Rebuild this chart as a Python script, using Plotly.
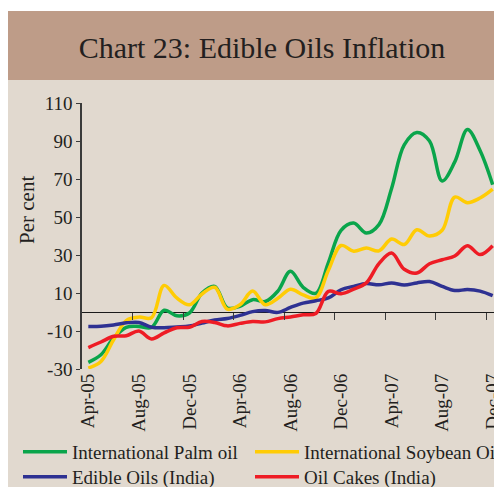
import plotly.graph_objects as go

# ---------------- data ----------------
months = ["Apr-05", "May-05", "Jun-05", "Jul-05", "Aug-05", "Sep-05", "Oct-05", "Nov-05",
          "Dec-05", "Jan-06", "Feb-06", "Mar-06", "Apr-06", "May-06", "Jun-06", "Jul-06",
          "Aug-06", "Sep-06", "Oct-06", "Nov-06", "Dec-06", "Jan-07", "Feb-07", "Mar-07",
          "Apr-07", "May-07", "Jun-07", "Jul-07", "Aug-07", "Sep-07", "Oct-07", "Nov-07",
          "Dec-07"]
tick_labels = ["Apr-05", "Aug-05", "Dec-05", "Apr-06", "Aug-06", "Dec-06", "Apr-07", "Aug-07", "Dec-07"]
y_ticks = [-30, -10, 10, 30, 50, 70, 90, 110]
y_tick_text = ["-30", "-10", "10", "30", "50", "70", "90", "110"]

palm_oil = [-26.5, -22.5, -13.7, -8.1, -7.6, -8.1, 0.9, -2.0, -0.5, 10.0, 13.5, 2.1, 3.0,
            6.5, 5.5, 11.0, 21.4, 13.0, 9.8, 26.0, 43.0, 46.8, 41.6, 46.0, 65.0, 88.0,
            94.5, 90.0, 69.0, 79.0, 96.0, 85.0, 67.0]
soybean_oil = [-29.5, -26.0, -14.6, -4.5, -2.7, -3.0, 14.0, 7.4, 3.8, 9.5, 13.0, 1.5, 3.8,
               11.0, 3.8, 7.2, 12.0, 9.0, 7.4, 22.0, 35.0, 32.0, 33.7, 32.2, 38.4, 35.5,
               43.3, 40.0, 43.0, 60.5, 57.5, 60.0, 64.7]
edible_oils_india = [-7.6, -7.5, -6.8, -5.7, -5.5, -8.0, -8.3, -7.9, -7.4, -5.8, -4.2, -3.4,
                     -1.8, 0.2, 0.8, -0.2, 2.4, 4.7, 5.9, 7.4, 11.7, 13.5, 15.0, 14.3, 15.3,
                     14.2, 15.3, 16.0, 13.5, 11.3, 11.8, 11.0, 8.6]
oil_cakes_india = [-18.7, -15.8, -12.8, -12.5, -10.0, -14.2, -11.0, -8.3, -8.0, -5.0, -5.5,
                   -7.3, -6.0, -5.0, -5.2, -3.5, -2.6, -1.5, -0.8, 10.9, 9.6, 12.0, 15.3,
                   25.5, 31.0, 22.5, 20.5, 25.4, 27.5, 29.5, 34.9, 30.2, 34.9]

series = [
    ("International Palm oil", palm_oil, "#0aa54b", "legend", "x"),
    ("International Soybean Oil", soybean_oil, "#ffcc05", "legend", "x"),
    ("Edible Oils (India)", edible_oils_india, "#2e3192", "legend2", "x"),
    ("Oil Cakes (India)", oil_cakes_india, "#ee1c25", "legend2", "x2"),
]

# ---------------- layout constants ----------------
# page body has an 8px margin, so the figure sits at (8, 8) in the window
OFF = 8
W, H = 494, 479
ML, MR, MT, MB = 74, 3, 95, 118
PW, PH = W - ML - MR, H - MT - MB
FONT = "Liberation Serif"
TXT = "#231f20"
AX = "#3a3a3a"
COL1_W, COL2_W = 173, 200


def px(xw):
    return (xw - OFF - ML) / PW


def py(yw):
    return (H - MB - (yw - OFF)) / PH


fig = go.Figure()
for k, (name, vals, col, leg, xa) in enumerate(series):
    fig.add_trace(go.Scatter(
        x=months, y=vals, name=name, mode="lines", legend=leg, xaxis=xa, yaxis="y",
        legendwidth=COL1_W if k % 2 == 0 else COL2_W,
        line=dict(color=col, width=3.5, shape="spline", smoothing=1.0),
    ))

legend_common = dict(orientation="h", xanchor="left", yanchor="middle",
                     entrywidthmode="pixels", bgcolor="rgba(0,0,0,0)",
                     font=dict(family=FONT, size=19, color=TXT), itemwidth=44)

cat_range = [-0.5, len(months) - 0.5]

fig.update_layout(
    width=W, height=H,
    margin=dict(l=ML, r=MR, t=MT, b=MB, pad=0, autoexpand=False),
    paper_bgcolor="white",
    plot_bgcolor="rgba(0,0,0,0)",
    font=dict(family=FONT, size=19, color=TXT),
    title=dict(text="Chart 23: Edible Oils Inflation", font=dict(family=FONT, size=30, color=TXT),
               x=(262 - OFF) / W, y=1 - (47 - OFF) / H, xref="container", yref="container",
               xanchor="center", yanchor="middle"),
    showlegend=True,
    legend=dict(x=px(18), y=py(452), **legend_common),
    legend2=dict(x=px(18), y=py(477), **legend_common),
    xaxis=dict(type="category", categoryorder="array", categoryarray=months,
               range=cat_range, tickvals=tick_labels, ticktext=tick_labels,
               tickangle=-90, showline=False, showgrid=False, zeroline=False, ticks="",
               tickfont=dict(family=FONT, size=19, color=TXT)),
    xaxis2=dict(overlaying="x", anchor="free", position=30 / 140, type="category",
                categoryorder="array", categoryarray=months, range=cat_range,
                tickmode="array", tickvals=[3.5, 7.5, 11.5, 15.5, 19.5, 23.5, 27.5, 31.5],
                ticks="outside", ticklen=7, tickcolor=AX, tickwidth=1.3,
                showticklabels=False, showline=False, showgrid=False, zeroline=False),
    yaxis=dict(range=[-30, 110], tickvals=y_ticks, ticktext=y_tick_text, showgrid=False,
               zeroline=True, zerolinecolor="#1a1a1a", zerolinewidth=1.2,
               showline=True, linecolor=AX, linewidth=1.5,
               ticks="outside", ticklen=4, tickcolor=AX, ticklabelstandoff=0,
               tickfont=dict(family=FONT, size=19, color=TXT)),
    annotations=[
        dict(text="Per cent", textangle=-90, xref="paper", yref="paper",
             x=px(27), y=py(210), xanchor="center", yanchor="middle", showarrow=False,
             font=dict(family=FONT, size=21, color=TXT)),
    ],
    shapes=[
        dict(type="rect", xref="paper", yref="paper", x0=px(8), x1=px(OFF + W + 5), y0=py(OFF + H + 5), y1=py(80),
             fillcolor="#e1d9cf", line=dict(width=0), layer="below"),
        dict(type="rect", xref="paper", yref="paper", x0=px(8), x1=px(OFF + W + 5), y0=py(80), y1=py(11),
             fillcolor="#be9c88", line=dict(width=0), layer="below"),
    ],
)

fig.write_html("out.html")
